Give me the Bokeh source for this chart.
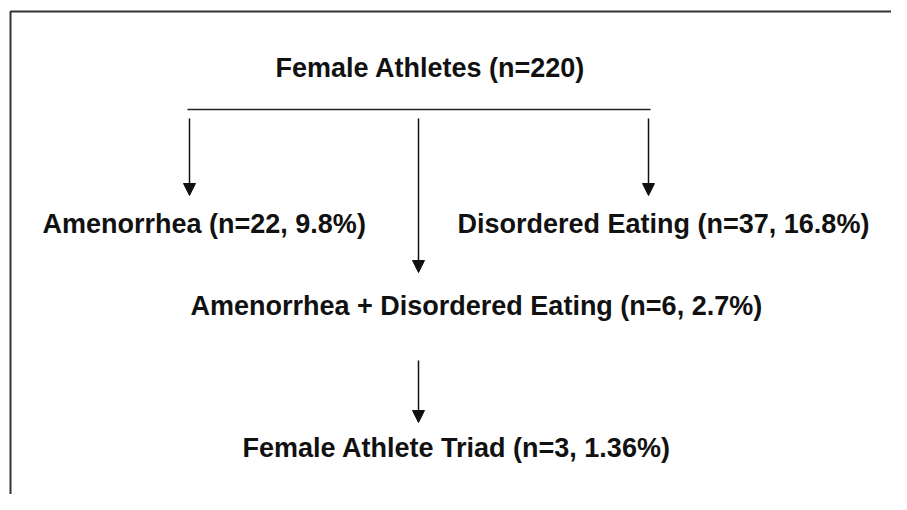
from bokeh.plotting import figure
from bokeh.models import Range1d, Arrow, NormalHead, ColumnDataSource
from bokeh.core.properties import value
from bokeh.embed import file_html
from bokeh.resources import INLINE

# ---- data ----
node_names = ["Female Athletes", "Amenorrhea", "Disordered Eating",
              "Amenorrhea + Disordered Eating", "Female Athlete Triad"]
node_n = [220, 22, 37, 6, 3]
node_pct = [None, "9.8%", "16.8%", "2.7%", "1.36%"]

def label(i):
    if node_pct[i] is None:
        return f"{node_names[i]} (n={node_n[i]})"
    return f"{node_names[i]} (n={node_n[i]}, {node_pct[i]})"

labels = [label(i) for i in range(len(node_names))]

# layout (pixel coordinates)
text_x = [275, 42, 457, 190, 242]
text_y = [67, 223, 223, 305, 447]

W, H = 891, 494
p = figure(width=W, height=H, output_backend="svg", toolbar_location=None,
           x_range=Range1d(0, W), y_range=Range1d(H, 0),
           min_border=0, outline_line_color=None)
p.axis.visible = False
p.grid.visible = False
p.background_fill_color = "white"
p.border_fill_color = "white"

# frame (left and top edges)
p.line(x=[10, 10, W], y=[H, 11, 11], line_color="#333333", line_width=2)

# horizontal connector
p.line(x=[187, 650], y=[109, 109], line_color="#222222", line_width=1.5)

# arrows
arrows = [(189, 118, 195), (418, 118, 272), (648, 118, 195), (418, 360, 422)]
for ax, y0, y1 in arrows:
    p.add_layout(Arrow(x_start=ax, y_start=y0, x_end=ax, y_end=y1,
                       line_color="#111111", line_width=1.5,
                       end=NormalHead(size=12, fill_color="#111111",
                                      line_color="#111111", line_width=1)))

src = ColumnDataSource(dict(x=text_x, y=text_y, t=labels))
p.text(x="x", y="y", text="t", source=src, text_font=value("Liberation Sans"),
       text_font_style="bold", text_font_size="27px", text_color="#111111",
       text_align="left", text_baseline="alphabetic")

open("out.html", "w").write(file_html(p, INLINE))
